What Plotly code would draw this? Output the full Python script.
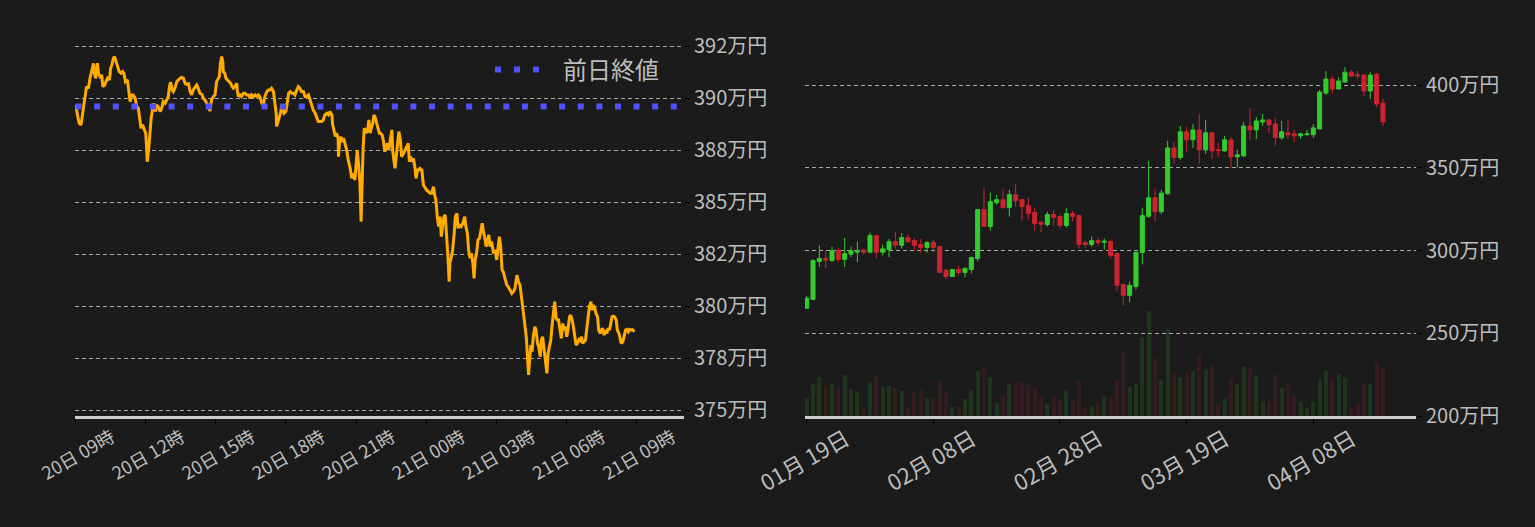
import pandas as pd
import plotly.graph_objects as go

# ---------------- data: intraday (left) ----------------
session_start = "2024-04-20 09:00"
prev_close = 389.6  # 万円

minutes_from_start = [
    0, 9, 14, 18, 22, 25, 28, 33, 37, 41, 46, 49, 52, 56, 59, 63, 67, 70, 75, 78,
    82, 87, 90, 93, 97, 100, 104, 108, 112, 117, 121, 124, 128, 133, 137, 140, 144, 148, 153, 157,
    161, 165, 168, 172, 176, 180, 182, 184, 188, 191, 194, 198, 201, 205, 208, 212, 217, 221, 225, 230,
    234, 238, 241, 244, 248, 251, 255, 260, 264, 268, 272, 277, 281, 285, 290, 294, 298, 302, 307, 311,
    315, 319, 324, 328, 332, 337, 341, 345, 349, 354, 358, 362, 366, 369, 372, 375, 378, 379, 383, 386,
    390, 395, 398, 402, 405, 409, 414, 415, 418, 422, 426, 431, 435, 439, 444, 448, 452, 456, 461, 465,
    469, 473, 478, 482, 486, 491, 495, 499, 503, 508, 512, 515, 516, 520, 523, 527, 529, 532, 535, 540,
    544, 547, 551, 555, 559, 563, 568, 572, 576, 580, 585, 589, 593, 598, 602, 606, 610, 615, 619, 623,
    628, 632, 636, 640, 645, 649, 653, 658, 660, 664, 667, 670, 674, 675, 677, 681, 684, 688, 692, 696,
    700, 705, 709, 713, 717, 720, 723, 727, 730, 733, 735, 738, 741, 744, 747, 751, 753, 756, 759, 763,
    766, 770, 773, 777, 780, 783, 787, 790, 794, 797, 800, 804, 807, 812, 814, 818, 820, 824, 827, 830,
    834, 837, 842, 846, 850, 854, 857, 860, 864, 867, 871, 874, 878, 881, 884, 889, 893, 897, 901, 906,
    910, 914, 919, 922, 925, 929, 932, 936, 939, 943, 946, 949, 953, 956, 959, 961, 965, 968, 972, 975,
    979, 982, 985, 990, 994, 999, 1002, 1006, 1009, 1013, 1016, 1020, 1023, 1026, 1030, 1033, 1037, 1040, 1044, 1047,
    1050, 1054, 1057, 1061, 1064, 1068, 1073, 1077, 1081, 1085, 1088, 1091, 1095, 1098, 1103, 1107, 1111, 1115, 1120, 1124,
    1128, 1133, 1137, 1141, 1145, 1150, 1153, 1157, 1160, 1163, 1165, 1169, 1172, 1175, 1179, 1182, 1186, 1189, 1193, 1196,
    1199, 1203, 1206, 1210, 1213, 1217, 1220, 1223, 1227, 1230, 1234, 1237, 1240, 1244, 1247, 1251, 1254, 1258, 1261, 1264,
    1268, 1271, 1275, 1278, 1282, 1285, 1288, 1292, 1295, 1299, 1302, 1305, 1309, 1312, 1316, 1319, 1323, 1326, 1329, 1333,
    1336, 1340, 1343, 1347, 1350, 1353, 1357, 1360, 1364, 1367, 1371, 1374, 1377, 1381, 1384, 1388, 1391, 1395, 1398, 1401,
    1405, 1408, 1412, 1415, 1419, 1422, 1425, 1429, 1432, 1435,
]

intraday_price = [
    389.68, 388.80, 388.72, 389.28, 390.00, 390.16, 390.56, 390.48, 390.96, 391.36, 391.68, 391.12, 390.96, 391.68, 391.20, 391.04, 391.12, 390.56, 390.64, 390.80,
    390.96, 390.88, 391.44, 391.60, 391.92, 392.00, 391.76, 391.44, 391.28, 391.20, 391.28, 391.20, 390.80, 390.88, 390.40, 389.84, 390.16, 390.16, 390.00, 389.60,
    389.52, 389.04, 388.56, 388.72, 388.48, 388.32, 387.76, 386.95, 387.60, 388.48, 389.04, 389.52, 389.76, 389.36, 389.68, 389.60, 389.36, 389.52, 389.84, 389.76,
    389.92, 390.08, 390.56, 390.77, 390.40, 390.32, 390.48, 390.80, 390.88, 390.96, 391.01, 390.96, 390.72, 390.67, 390.69, 390.32, 390.16, 390.40, 390.56, 390.64,
    390.48, 390.24, 390.19, 390.00, 389.92, 389.76, 389.60, 389.39, 389.92, 390.08, 390.16, 390.80, 390.96, 391.04, 391.68, 392.00, 391.76, 391.28, 391.20, 390.96,
    390.88, 390.80, 390.72, 390.56, 390.48, 390.56, 390.72, 390.40, 390.08, 390.16, 390.08, 390.24, 390.24, 390.16, 390.16, 390.00, 390.16, 390.08, 390.16, 390.08,
    390.16, 390.08, 389.76, 389.68, 390.08, 390.32, 390.40, 390.40, 390.48, 390.32, 389.76, 389.28, 388.64, 388.88, 389.12, 389.36, 389.68, 389.44, 389.28, 389.36,
    389.84, 390.24, 390.32, 390.24, 390.24, 390.16, 390.40, 390.56, 390.48, 390.32, 390.32, 390.08, 390.08, 390.16, 389.92, 389.68, 389.44, 389.28, 389.12, 388.88,
    388.88, 388.88, 388.96, 389.20, 389.28, 389.20, 389.36, 389.20, 388.72, 388.32, 388.16, 388.32, 388.08, 387.19, 387.76, 388.16, 387.91, 388.08, 387.76, 387.51,
    387.03, 386.63, 386.15, 386.39, 386.07, 387.03, 387.51, 386.71, 385.91, 384.07, 385.91, 387.51, 388.56, 388.40, 388.32, 388.64, 388.96, 388.32, 388.48, 388.80,
    389.20, 389.04, 388.80, 388.48, 388.32, 388.32, 388.24, 387.99, 387.43, 387.67, 387.83, 387.51, 387.83, 388.48, 387.51, 386.87, 386.63, 387.35, 387.83, 388.40,
    387.99, 387.19, 387.35, 387.51, 387.75, 387.83, 386.95, 387.19, 386.95, 387.11, 386.71, 386.15, 386.55, 386.55, 386.63, 386.55, 385.83, 385.67, 385.59, 385.51,
    385.43, 385.43, 385.75, 385.35, 385.11, 384.23, 383.83, 384.31, 383.35, 383.99, 384.31, 384.39, 383.35, 382.39, 381.18, 382.07, 382.39, 382.71, 383.51, 384.31,
    384.47, 383.75, 383.91, 383.83, 383.99, 384.31, 383.83, 383.51, 382.71, 382.31, 382.55, 382.07, 381.34, 382.23, 382.63, 383.19, 383.27, 383.67, 383.99, 383.59,
    383.35, 382.87, 383.19, 383.43, 382.87, 383.11, 382.55, 382.71, 382.23, 383.03, 383.35, 382.95, 381.74, 381.66, 381.34, 381.02, 380.94, 380.78, 380.62, 380.70,
    380.86, 381.50, 381.18, 381.02, 380.46, 379.82, 379.18, 378.54, 377.42, 376.70, 377.26, 378.14, 377.82, 378.54, 379.02, 378.86, 378.22, 378.06, 377.58, 378.38,
    378.54, 377.90, 377.26, 376.78, 377.74, 378.22, 378.38, 379.02, 379.66, 380.22, 379.42, 379.34, 379.34, 378.86, 378.46, 379.18, 378.86, 379.02, 378.54, 378.86,
    379.50, 379.58, 379.34, 379.02, 378.54, 378.14, 378.22, 378.38, 378.30, 378.54, 378.22, 378.30, 378.38, 378.86, 379.58, 379.98, 380.22, 379.82, 380.06, 379.90,
    379.66, 379.50, 378.86, 378.70, 378.86, 378.94, 378.62, 378.86, 378.70, 378.94, 378.86, 379.26, 379.50, 379.53, 379.50, 379.34, 378.86, 378.70, 378.38, 378.22,
    378.30, 378.62, 378.86, 378.89, 378.78, 378.89, 378.86, 378.89, 378.83, 378.78,
]

left_tick_hours = [0, 3, 6, 9, 12, 15, 18, 21, 24]
left_tick_text = ["20日 09時", "20日 12時", "20日 15時", "20日 18時", "20日 21時",
                  "21日 00時", "21日 03時", "21日 06時", "21日 09時"]
left_y_ticks = [375, 377.5, 380, 382.5, 385, 387.5, 390, 392.5]
left_y_text = ["375万円", "378万円", "380万円", "382万円", "385万円", "388万円", "390万円", "392万円"]

# ---------------- data: daily candles (right) ----------------
first_day = "2024-01-19"
d_open = [265.1, 270.5, 293.4, 295.2, 294.0, 300.0, 294.6, 297.8, 299.0, 300.2,
          299.0, 309.0, 299.0, 300.6, 305.4, 303.2, 307.8, 306.0, 303.6, 301.8,
          304.8, 302.4, 288.0, 284.3, 288.7, 286.7, 288.5, 295.2, 324.7, 314.5,
          328.9, 330.7, 325.9, 333.7, 330.7, 327.1, 322.9, 317.1, 315.7, 321.7,
          320.5, 315.1, 322.3, 321.1, 304.8, 303.6, 306.0, 305.0, 305.4, 298.2,
          279.5, 272.9, 278.3, 298.8, 320.7, 331.9, 323.5, 334.3, 362.0, 356.2,
          371.7, 366.9, 372.9, 360.8, 371.1, 361.0, 360.2, 366.9, 356.6, 357.2,
          375.3, 372.9, 377.7, 378.9, 376.5, 368.1, 371.1, 370.5, 369.3, 370.1,
          369.9, 373.5, 395.2, 403.6, 397.6, 401.8, 407.8, 406.2, 406.0, 396.4,
          406.6, 389.1]
d_high = [272.5, 294.6, 303.0, 300.0, 302.4, 301.6, 307.6, 302.4, 305.4, 301.2,
          310.8, 309.6, 303.6, 307.0, 311.4, 310.6, 309.6, 307.6, 307.0, 305.6,
          306.6, 302.8, 289.0, 288.5, 290.9, 289.8, 296.4, 324.7, 338.0, 334.9,
          333.7, 337.3, 336.7, 340.4, 331.3, 331.9, 325.9, 317.7, 323.5, 324.7,
          322.3, 325.9, 324.1, 321.1, 306.0, 308.4, 307.8, 307.2, 306.6, 298.8,
          279.5, 281.3, 299.4, 325.9, 354.2, 337.3, 336.7, 366.3, 365.7, 375.3,
          374.7, 376.5, 382.5, 378.9, 371.7, 365.0, 369.3, 368.5, 360.8, 377.7,
          386.1, 380.7, 382.5, 379.5, 380.1, 378.3, 378.9, 372.9, 371.1, 372.9,
          376.5, 397.0, 408.4, 405.4, 404.8, 410.8, 409.0, 408.4, 406.0, 407.8,
          407.2, 391.6]
d_low = [265.1, 269.9, 290.0, 289.4, 293.0, 293.0, 290.0, 296.0, 293.0, 297.6,
         298.8, 295.4, 297.0, 296.0, 301.2, 301.2, 304.6, 300.2, 298.6, 298.6,
         299.0, 286.4, 282.5, 284.3, 284.9, 283.7, 286.1, 293.4, 314.5, 312.0,
         327.7, 325.3, 320.5, 326.5, 318.1, 318.7, 312.0, 311.0, 314.5, 315.1,
         313.3, 313.9, 317.5, 301.2, 301.8, 302.4, 303.0, 300.6, 295.2, 275.3,
         266.9, 268.7, 276.5, 291.6, 319.7, 317.7, 321.9, 333.7, 352.6, 354.8,
         359.8, 362.0, 352.4, 358.4, 355.4, 356.6, 359.6, 350.0, 350.0, 356.6,
         366.9, 367.5, 375.3, 371.1, 363.2, 366.9, 367.5, 365.7, 367.5, 369.3,
         368.1, 373.5, 394.0, 394.6, 397.6, 401.8, 404.8, 403.6, 393.4, 391.6,
         386.7, 375.3]
d_close = [271.1, 294.0, 295.2, 294.2, 299.8, 294.6, 298.2, 299.8, 300.0, 299.0,
           309.0, 299.0, 301.0, 305.4, 303.2, 307.8, 305.4, 303.2, 301.8, 304.8,
           301.8, 286.8, 284.3, 288.5, 286.7, 289.2, 295.8, 324.7, 314.5, 329.5,
           330.7, 325.9, 333.7, 330.1, 326.5, 322.3, 316.3, 315.9, 321.7, 319.9,
           315.1, 322.3, 320.5, 303.6, 303.6, 306.0, 304.8, 305.6, 297.0, 278.9,
           272.9, 278.9, 298.8, 321.1, 331.9, 323.5, 334.7, 362.0, 356.2, 371.7,
           366.9, 372.9, 360.8, 371.1, 360.2, 360.4, 366.9, 356.6, 357.8, 375.3,
           372.9, 378.3, 378.9, 375.9, 368.1, 371.7, 369.9, 369.3, 370.5, 370.5,
           374.1, 395.8, 403.6, 397.6, 402.4, 407.8, 405.4, 405.6, 396.4, 406.0,
           388.5, 377.7]
d_volume = [54, 96, 117, 90, 96, 84, 123, 81, 72, 24,
            102, 123, 87, 90, 84, 75, 24, 72, 78, 54,
            54, 105, 75, 27, 27, 51, 78, 135, 144, 117,
            39, 60, 96, 102, 102, 93, 84, 57, 36, 60,
            51, 78, 45, 105, 24, 30, 42, 60, 57, 108,
            189, 87, 96, 237, 315, 174, 108, 261, 129, 117,
            129, 135, 183, 138, 150, 33, 51, 114, 96, 147,
            147, 120, 45, 45, 126, 84, 102, 63, 42, 24,
            42, 111, 135, 114, 126, 114, 24, 39, 96, 96,
            162, 144]

right_tick_dates = ["2024-01-19", "2024-02-08", "2024-02-28", "2024-03-19", "2024-04-08"]
right_tick_text = ["01月 19日", "02月 08日", "02月 28日", "03月 19日", "04月 08日"]
right_y_ticks = [200, 250, 300, 350, 400]
right_y_text = ["200万円", "250万円", "300万円", "350万円", "400万円"]

# ---------------- styling ----------------
W, H = 1535, 527
BG = "#1b1b1b"
TXT = "#bdbdbd"
GRID = "#a8a8a8"
ORANGE = "#ffab00"
BLUE = "#5050ff"
GREEN = "#33cc2e"
RED = "#cc2433"
GREEN_V = "rgba(51,204,46,0.15)"
RED_V = "rgba(204,36,51,0.15)"
FONT = "Noto Sans CJK JP"

M_T, M_B = 20, 111
plot_h = H - M_T - M_B

t0 = pd.Timestamp(session_start)
t_left = [t0 + pd.Timedelta(minutes=m) for m in minutes_from_start]
left_range = [t0 - pd.Timedelta(minutes=1.5), t0 + pd.Timedelta(minutes=1562)]
left_ticks = [t0 + pd.Timedelta(hours=h) for h in left_tick_hours]

days = pd.date_range(first_day, periods=len(d_open), freq="D")
d0 = pd.Timestamp(first_day)
right_range = [d0 - pd.Timedelta(days=0.268), d0 + pd.Timedelta(days=96.22)]
vol_colors = [GREEN_V if c >= o else RED_V for o, c in zip(d_open, d_close)]

fig = go.Figure()

fig.add_trace(go.Scatter(
    x=t_left, y=intraday_price, mode="lines",
    line=dict(color=ORANGE, width=3), showlegend=False,
    xaxis="x", yaxis="y", hoverinfo="skip"))

fig.add_trace(go.Scatter(
    x=[t0, left_range[1]], y=[prev_close, prev_close],
    mode="lines", line=dict(color=BLUE, width=6, dash="6px,12.6px"),
    showlegend=False, xaxis="x", yaxis="y"))

# legend entry for the previous close line
fig.add_trace(go.Scatter(
    x=[None], y=[None], mode="lines", name="前日終値",
    line=dict(color=BLUE, width=6, dash="6px,13px,6px,13px,6px,60px"),
    xaxis="x", yaxis="y"))

fig.add_trace(go.Bar(
    x=days, y=d_volume, marker=dict(color=vol_colors, line=dict(width=0)),
    width=0.62 * 86400000, showlegend=False, xaxis="x2", yaxis="y2"))

fig.add_trace(go.Candlestick(
    x=days, open=d_open, high=d_high, low=d_low, close=d_close,
    increasing=dict(line=dict(color=GREEN, width=1), fillcolor=GREEN),
    decreasing=dict(line=dict(color=RED, width=1), fillcolor=RED),
    showlegend=False, xaxis="x2", yaxis="y3"))

tick_common = dict(ticks="outside", ticklen=5, tickcolor="#000000", tickwidth=1,
                   automargin=False)

fig.update_layout(
    width=W, height=H,
    margin=dict(l=0, r=0, t=M_T, b=M_B, pad=0, autoexpand=False),
    paper_bgcolor=BG, plot_bgcolor=BG,
    font=dict(family=FONT, color=TXT),
    boxgap=0.15, boxgroupgap=0.25,
    bargap=0,
    legend=dict(x=490 / W, xanchor="left", y=(H - M_B - 70) / plot_h, yanchor="middle",
                itemwidth=63, font=dict(size=24, color=TXT, family=FONT),
                bgcolor="rgba(0,0,0,0)", borderwidth=0),
    xaxis=dict(domain=[75 / W, 684 / W], anchor="y", type="date", range=left_range,
               tickvals=left_ticks, ticktext=left_tick_text, tickangle=-30,
               tickfont=dict(size=18, color=TXT), ticklabelshift=36,
               ticklabelstandoff=-4, showgrid=False, zeroline=False,
               showline=True, linecolor="#cccccc", linewidth=3, **tick_common),
    yaxis=dict(anchor="x", side="right", range=[374.73, 393.76],
               tickvals=left_y_ticks, ticktext=left_y_text,
               tickfont=dict(size=20, color=TXT), showgrid=True, gridcolor=GRID,
               griddash="4px,3px", gridwidth=1, zeroline=False, showline=False,
               **tick_common),
    xaxis2=dict(domain=[805 / W, 1416 / W], anchor="y2", type="date", range=right_range,
                tickvals=right_tick_dates, ticktext=right_tick_text, tickangle=-30,
                tickfont=dict(size=22, color=TXT), ticklabelshift=39,
                ticklabelstandoff=-6, showgrid=False, zeroline=False,
                showline=True, linecolor="#cccccc", linewidth=3,
                rangeslider=dict(visible=False), **tick_common),
    yaxis2=dict(anchor="x2", range=[0, plot_h * 3], visible=False, showgrid=False,
                automargin=False),
    yaxis3=dict(anchor="x2", overlaying="y2", side="right", range=[200, 439.3],
                tickvals=right_y_ticks, ticktext=right_y_text,
                tickfont=dict(size=20, color=TXT), showgrid=True, gridcolor=GRID,
                griddash="4px,3px", gridwidth=1, zeroline=False, showline=False,
                **tick_common),
)

fig.write_html("out.html", config={"displayModeBar": False},
               post_script="document.body.style.margin='0';document.body.style.overflow='hidden';")
